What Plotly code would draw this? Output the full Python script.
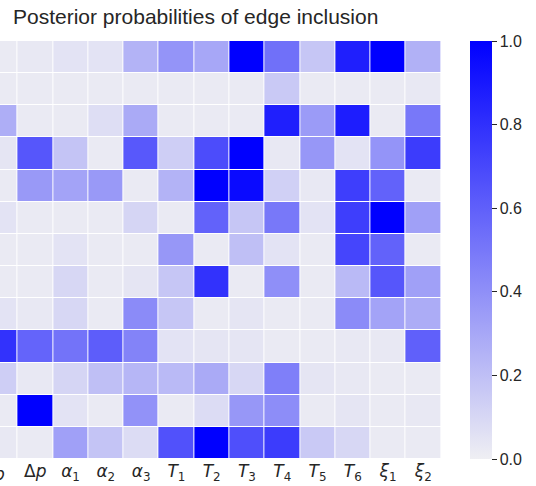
import plotly.graph_objects as go

columns = ["p", "Δp", "α1", "α2", "α3", "T1", "T2", "T3", "T4", "T5", "T6", "ξ1", "ξ2"]
col_labels = ["<i>p</i>", "Δ<i>p</i>", "<i>α</i><sub>1</sub>", "<i>α</i><sub>2</sub>", "<i>α</i><sub>3</sub>",
              "<i>T</i><sub>1</sub>", "<i>T</i><sub>2</sub>", "<i>T</i><sub>3</sub>", "<i>T</i><sub>4</sub>",
              "<i>T</i><sub>5</sub>", "<i>T</i><sub>6</sub>", "<i>ξ</i><sub>1</sub>", "<i>ξ</i><sub>2</sub>"]
rows = ["p", "Δp", "α1", "α2", "α3", "T1", "T2", "T3", "T4", "T5", "T6", "ξ1", "ξ2"]

row_p   = [0.02, 0.03, 0.05, 0.05, 0.25, 0.38, 0.30, 1.00, 0.53, 0.17, 0.87, 1.00, 0.26]
row_dp  = [0.02, 0.02, 0.02, 0.02, 0.02, 0.02, 0.02, 0.02, 0.16, 0.02, 0.02, 0.02, 0.03]
row_a1  = [0.27, 0.02, 0.02, 0.07, 0.29, 0.02, 0.02, 0.02, 0.87, 0.35, 0.88, 0.02, 0.50]
row_a2  = [0.04, 0.64, 0.18, 0.02, 0.63, 0.14, 0.68, 1.00, 0.03, 0.37, 0.05, 0.38, 0.75]
row_a3  = [0.02, 0.36, 0.32, 0.36, 0.02, 0.25, 1.00, 0.96, 0.13, 0.03, 0.74, 0.59, 0.02]
row_t1  = [0.05, 0.02, 0.02, 0.02, 0.11, 0.02, 0.59, 0.17, 0.50, 0.05, 0.74, 1.00, 0.33]
row_t2  = [0.02, 0.02, 0.05, 0.02, 0.02, 0.37, 0.02, 0.20, 0.05, 0.02, 0.71, 0.59, 0.02]
row_t3  = [0.02, 0.02, 0.10, 0.02, 0.04, 0.17, 0.79, 0.02, 0.40, 0.02, 0.22, 0.64, 0.33]
row_t4  = [0.05, 0.03, 0.10, 0.02, 0.42, 0.17, 0.02, 0.04, 0.02, 0.02, 0.42, 0.32, 0.28]
row_t5  = [0.79, 0.58, 0.52, 0.61, 0.45, 0.05, 0.04, 0.04, 0.02, 0.02, 0.03, 0.03, 0.60]
row_t6  = [0.14, 0.03, 0.11, 0.20, 0.24, 0.22, 0.29, 0.10, 0.47, 0.04, 0.03, 0.02, 0.02]
row_x1  = [0.02, 1.00, 0.05, 0.02, 0.39, 0.02, 0.08, 0.37, 0.41, 0.02, 0.04, 0.02, 0.03]
row_x2  = [0.03, 0.02, 0.33, 0.18, 0.08, 0.66, 1.00, 0.67, 0.75, 0.16, 0.10, 0.02, 0.02]

z = [row_p, row_dp, row_a1, row_a2, row_a3, row_t1, row_t2, row_t3, row_t4,
     row_t5, row_t6, row_x1, row_x2]

W, H = 536, 486
plot_left, plot_right, plot_top, plot_bottom = 0, 440.7, 41, 459
tick_font = dict(family="DejaVu Sans", size=17, color="#262626")

fig = go.Figure(go.Heatmap(
    z=z,
    x=list(range(len(columns))),
    y=list(range(len(rows))),
    zmin=0, zmax=1,
    colorscale=[[0, "#efeff3"], [1, "#0000ff"]],
    xgap=1, ygap=1,
    colorbar=dict(
        x=(469.5 - plot_left) / (plot_right - plot_left), xanchor="left", xpad=0,
        y=0.5, yanchor="middle", len=1, lenmode="fraction", ypad=0,
        thickness=22, thicknessmode="pixels",
        outlinewidth=0,
        tickvals=[0, 0.2, 0.4, 0.6, 0.8, 1.0],
        ticktext=["0.0", "0.2", "0.4", "0.6", "0.8", "1.0"],
        ticks="outside", ticklen=5, tickcolor="#262626", tickwidth=1,
        tickfont=dict(family="Liberation Sans, Arial", size=16, color="#262626"),
    ),
))

# first (clipped) column label drawn as an annotation so it can run off the page edge
fig.add_annotation(x=0, xref="paper", y=0, yref="paper", yanchor="top", yshift=-3,
                   xanchor="center", xshift=-1, text=col_labels[0], showarrow=False,
                   font=tick_font)

fig.update_layout(
    width=W, height=H,
    margin=dict(l=plot_left, r=W - plot_right, t=plot_top, b=H - plot_bottom, pad=0),
    plot_bgcolor="white", paper_bgcolor="white",
    title=dict(text="Posterior probabilities of edge inclusion",
               xref="container", yref="container",
               x=13 / W, xanchor="left", y=1 - 17 / H, yanchor="middle",
               font=dict(family="Liberation Sans, Arial", size=21, color="#262626")),
    xaxis=dict(range=[0.001, len(columns) - 0.5], tickvals=list(range(1, len(columns))),
               ticktext=col_labels[1:], showgrid=False, zeroline=False, ticks="",
               tickfont=tick_font),
    yaxis=dict(range=[len(rows) - 0.5, -0.5], showticklabels=False, showgrid=False,
               zeroline=False, ticks=""),
)

fig.write_html("out.html")
